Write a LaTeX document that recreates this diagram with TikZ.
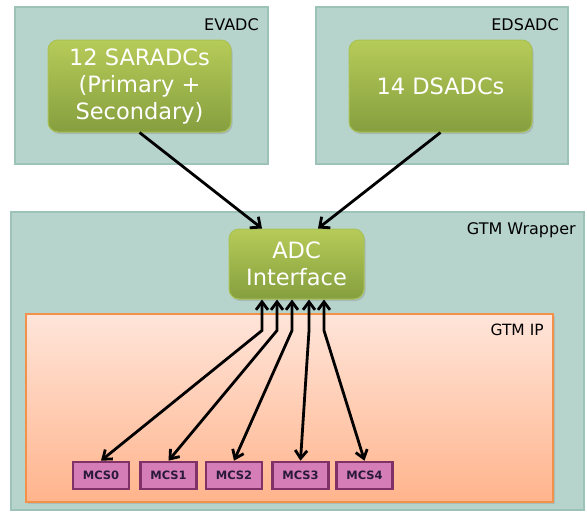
\documentclass[tikz,border=0pt]{standalone}
\usepackage{fontspec}
\setmainfont{DejaVu Sans}
\usetikzlibrary{arrows.meta,shadows}

\definecolor{panelfill}{HTML}{B7D4CC}
\definecolor{panelline}{HTML}{9DC3B8}
\definecolor{greentop}{HTML}{B6CB58}
\definecolor{greenbot}{HTML}{869F3F}
\definecolor{greenline}{HTML}{A9C255}
\definecolor{iptop}{HTML}{FFE5DA}
\definecolor{ipbot}{HTML}{FFB48C}
\definecolor{ipline}{HTML}{F2914A}
\definecolor{mcsfill}{HTML}{D47DB6}
\definecolor{mcsline}{HTML}{7F3168}
\definecolor{mcstext}{HTML}{2A1A3A}

\begin{document}
\begin{tikzpicture}[
    x=1pt, y=-1pt,
    panel/.style={rectangle,draw=panelline,line width=1.8pt,fill=panelfill,inner sep=0pt},
    tag/.style={anchor=east,inner sep=0pt,font=\fontsize{16}{19}\selectfont},
    block/.style={rectangle,rounded corners=10pt,top color=greentop,bottom color=greenbot,
        draw=greenline,line width=1pt,text=white,align=center,inner sep=0pt,
        font=\fontsize{22.5}{27}\selectfont,
        drop shadow={shadow xshift=1.5pt,shadow yshift=-2pt,opacity=0.3}},
    mcs/.style={rectangle,draw=mcsline,line width=2.6pt,fill=mcsfill,text=mcstext,
        minimum width=56pt,minimum height=27pt,inner sep=0pt,
        font=\bfseries\fontsize{11.5}{13}\selectfont},
    feed/.style={line width=2.8pt,-{Straight Barb[length=8pt,width=14pt]}},
    bus/.style={line width=2.8pt,{Straight Barb[length=8pt,width=12pt]}-{Straight Barb[length=8pt,width=12pt]}}
]
    \useasboundingbox (0,0) rectangle (587,512);

    % converter groups and the wrapper
    \node[panel,minimum width=253pt,minimum height=157pt] (evadc)  at (141.5,85.5) {};
    \node[panel,minimum width=252pt,minimum height=157pt] (edsadc) at (442,85.5)   {};
    \node[panel,minimum width=573pt,minimum height=298pt] (wrap)   at (297.5,361)  {};
    \node[rectangle,draw=ipline,line width=1.8pt,top color=iptop,bottom color=ipbot,
          minimum width=527pt,minimum height=188pt,inner sep=0pt,
          drop shadow={shadow xshift=1.5pt,shadow yshift=-1.5pt,opacity=0.25}] (gtmip) at (289.5,408) {};

    \node[tag] (evadcL)  at ([xshift=-10pt,yshift=-19pt]evadc.north east)  {EVADC};
    \node[tag] (edsadcL) at ([xshift=-10pt,yshift=-19pt]edsadc.north east) {EDSADC};
    \node[tag] (wrapL)   at ([xshift=-9pt,yshift=-19pt]wrap.north east)    {GTM Wrapper};
    \node[tag,font=\fontsize{15.5}{18}\selectfont] (gtmipL) at ([xshift=-10pt,yshift=-17pt]gtmip.north east) {GTM IP};

    % converters and the interface block
    \node[block,minimum width=183pt,minimum height=92pt] (sar) at (139.5,86)  {12 SARADCs\\(Primary +\\Secondary)};
    \node[block,minimum width=183pt,minimum height=92pt] (dsa) at (440.5,86)  {14 DSADCs};
    \node[block,minimum width=135pt,minimum height=70pt] (adc) at (296.5,264) {ADC\\Interface};

    % MCS channels
    \node[mcs] (m0) at (101,475.5)   {MCS0};
    \node[mcs] (m1) at (168.5,475.5) {MCS1};
    \node[mcs] (m2) at (234,475.5)   {MCS2};
    \node[mcs] (m3) at (300.5,475.5) {MCS3};
    \node[mcs] (m4) at (364.5,475.5) {MCS4};

    \draw[feed] (sar.south) -- ([xshift=-34.5pt]adc.north);
    \draw[feed] (dsa.south) -- ([xshift=21.5pt]adc.north);

    \draw[bus] ([xshift=-34.5pt]adc.south) -- ++(0,31) -- (m0.north);
    \draw[bus] ([xshift=-19.5pt]adc.south) -- ++(0,31) -- (m1.north);
    \draw[bus] ([xshift=-4.5pt]adc.south)  -- ++(0,31) -- (m2.north);
    \draw[bus] ([xshift=12.5pt]adc.south)  -- ++(0,31) -- (m3.north);
    \draw[bus] ([xshift=27.5pt]adc.south)  -- ++(0,31) -- (m4.north);
\end{tikzpicture}
\end{document}
